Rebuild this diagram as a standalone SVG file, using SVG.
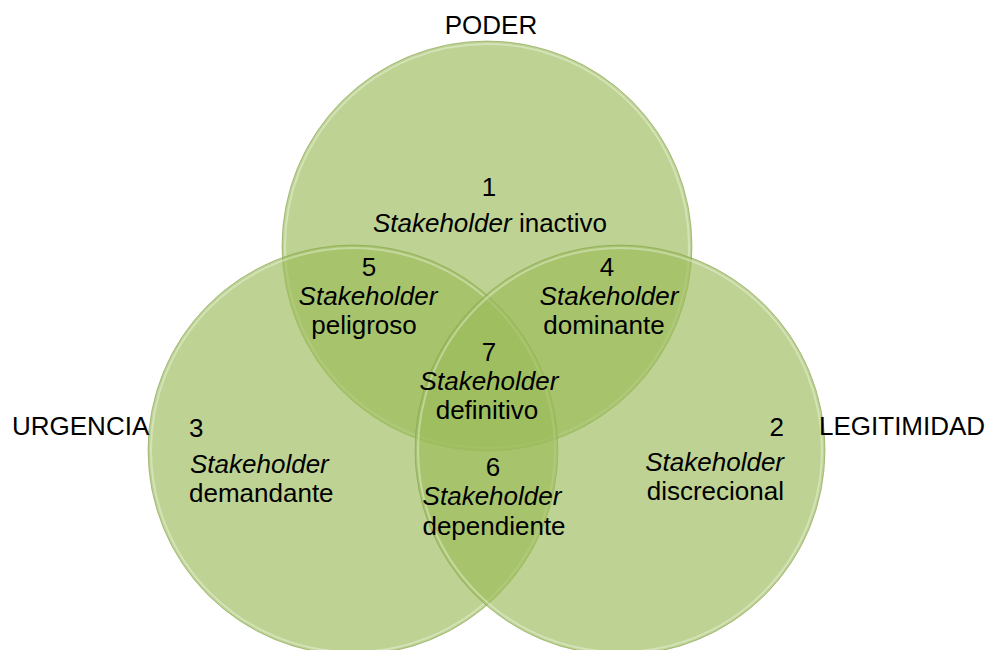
<svg xmlns="http://www.w3.org/2000/svg" width="990" height="650" viewBox="0 0 990 650">
  <style>
    .set { fill: #9bbb59; fill-opacity: 0.65; stroke: #7f9a48; stroke-opacity: 0.55; stroke-width: 1; }
    .rim { fill: none; stroke: #ffffff; stroke-opacity: 0.35; stroke-width: 2; }
    text { font-family: "Liberation Sans", Arial, sans-serif; font-size: 26px; fill: #000000; }
    .c { text-anchor: middle; }
    .l { text-anchor: start; }
    .r { text-anchor: end; }
    .i { font-style: italic; }
  </style>

  <!-- three overlapping sets -->
  <g id="circle-poder">
    <circle class="set" cx="487" cy="246" r="205"/>
    <circle class="rim" cx="487" cy="246" r="202"/>
  </g>
  <g id="circle-urgencia">
    <circle class="set" cx="353" cy="450" r="205"/>
    <circle class="rim" cx="353" cy="450" r="202"/>
  </g>
  <g id="circle-legitimidad">
    <circle class="set" cx="620" cy="450" r="205"/>
    <circle class="rim" cx="620" cy="450" r="202"/>
  </g>

  <!-- set titles -->
  <g id="title-poder"><text class="c" x="491" y="34">PODER</text></g>
  <g id="title-urgencia"><text class="l" x="12" y="435">URGENCIA</text></g>
  <g id="title-legitimidad"><text class="l" x="819" y="435">LEGITIMIDAD</text></g>

  <!-- region labels -->
  <g id="region-1">
    <text class="c" x="489" y="196">1</text>
    <text class="c" x="490" y="232"><tspan class="i">Stakeholder</tspan> inactivo</text>
  </g>
  <g id="region-2">
    <text class="r" x="784" y="436">2</text>
    <text class="r i" x="784" y="471">Stakeholder</text>
    <text class="r" x="784" y="500">discrecional</text>
  </g>
  <g id="region-3">
    <text class="l" x="189" y="437">3</text>
    <text class="l i" x="190" y="473">Stakeholder</text>
    <text class="l" x="189" y="502">demandante</text>
  </g>
  <g id="region-4">
    <text class="c" x="607" y="276">4</text>
    <text class="c i" x="609" y="305">Stakeholder</text>
    <text class="c" x="604" y="334">dominante</text>
  </g>
  <g id="region-5">
    <text class="c" x="369" y="276">5</text>
    <text class="c i" x="368" y="305">Stakeholder</text>
    <text class="c" x="364" y="334">peligroso</text>
  </g>
  <g id="region-6">
    <text class="c" x="493" y="476">6</text>
    <text class="c i" x="492" y="505">Stakeholder</text>
    <text class="c" x="494" y="535">dependiente</text>
  </g>
  <g id="region-7">
    <text class="c" x="489" y="361">7</text>
    <text class="c i" x="489" y="390">Stakeholder</text>
    <text class="c" x="487" y="419">definitivo</text>
  </g>
</svg>
